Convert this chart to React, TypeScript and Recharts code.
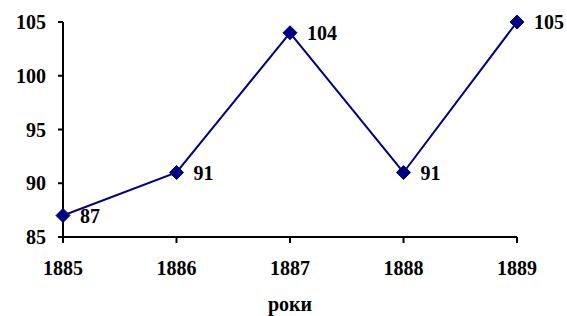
import { LineChart, Line, XAxis, YAxis, LabelList } from "recharts";

const years = ["1885", "1886", "1887", "1888", "1889"];
const values = [87, 91, 104, 91, 105];
const yTicks = [85, 90, 95, 100, 105];

const data = years.map((year, i) => ({ year, value: values[i] }));

const NAVY = "#000080";
const FONT = "'Liberation Serif', 'Times New Roman', serif";

const textStyle = {
  fontSize: 20,
  fontWeight: 700,
  fill: "#000",
  fontFamily: FONT,
};

// eslint-disable-next-line @typescript-eslint/no-explicit-any
function Diamond({ cx, cy }: any) {
  if (cx == null || cy == null) return null;
  const r = 7;
  return (
    <polygon
      points={`${cx},${cy - r} ${cx + r},${cy} ${cx},${cy + r} ${cx - r},${cy}`}
      fill={NAVY}
      stroke={NAVY}
    />
  );
}

// eslint-disable-next-line @typescript-eslint/no-explicit-any
function XTick({ x, y, payload }: any) {
  return (
    <text x={x} y={y + 23} textAnchor="middle" dominantBaseline="central" style={textStyle}>
      {payload.value}
    </text>
  );
}

// eslint-disable-next-line @typescript-eslint/no-explicit-any
function YTick({ x, y, payload }: any) {
  return (
    <text x={x - 1} y={y} textAnchor="end" dominantBaseline="central" style={textStyle}>
      {payload.value}
    </text>
  );
}

// eslint-disable-next-line @typescript-eslint/no-explicit-any
function PointLabel({ x, y, value }: any) {
  return (
    <text x={x + 17} y={y} textAnchor="start" dominantBaseline="central" style={textStyle}>
      {value}
    </text>
  );
}

// eslint-disable-next-line @typescript-eslint/no-explicit-any
function AxisTitle({ viewBox }: any) {
  const { x, y, width } = viewBox;
  return (
    <text x={x + width / 2} y={y + 74} textAnchor="middle" style={textStyle}>
      роки
    </text>
  );
}

export default function App() {
  return (
    <div style={{ position: "absolute", left: 0, top: 0, background: "#fff" }}>
      <LineChart
        width={567}
        height={316}
        data={data}
        margin={{ top: 22, right: 50, left: 13, bottom: 0 }}
      >
        <XAxis
          dataKey="year"
          padding={{ left: 0, right: 0 }}
          tick={<XTick />}
          tickSize={6}
          axisLine={{ stroke: "#000", strokeWidth: 2 }}
          tickLine={{ stroke: "#000", strokeWidth: 2 }}
          height={79}
          label={<AxisTitle />}
        />
        <YAxis
          domain={[85, 105]}
          ticks={yTicks}
          width={50}
          tick={<YTick />}
          tickSize={5}
          tickMargin={11}
          axisLine={{ stroke: "#000", strokeWidth: 2 }}
          tickLine={{ stroke: "#000", strokeWidth: 2 }}
        />
        <Line
          type="linear"
          dataKey="value"
          stroke={NAVY}
          strokeWidth={2}
          dot={<Diamond />}
          activeDot={false}
          isAnimationActive={false}
        >
          <LabelList dataKey="value" content={<PointLabel />} />
        </Line>
      </LineChart>
    </div>
  );
}
